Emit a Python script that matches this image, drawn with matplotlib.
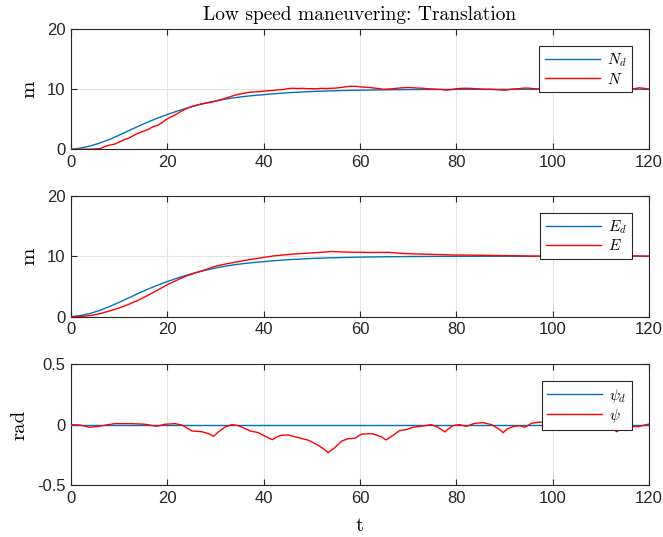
import matplotlib
matplotlib.use("Agg")
import matplotlib.pyplot as plt

plt.rcParams['font.family'] = ['Liberation Sans', 'DejaVu Sans']
plt.rcParams['mathtext.fontset'] = 'cm'
plt.rcParams['axes.unicode_minus'] = False

# ---------------- data ----------------
t_Nd = [0, 2, 4, 6, 8, 10, 12, 14, 16, 18, 20, 22, 24, 26, 28, 30, 32, 34, 36, 38, 40,
        42, 44, 46, 48, 50, 52, 54, 56, 58, 60, 65, 70, 75, 80, 90, 100, 120]
Nd = [0, 0.2, 0.55, 1.05, 1.65, 2.35, 3.1, 3.85, 4.55, 5.2, 5.8, 6.35, 6.85, 7.3, 7.7,
      8.05, 8.35, 8.6, 8.8, 8.97, 9.1, 9.25, 9.37, 9.47, 9.55, 9.63, 9.69, 9.74, 9.78,
      9.82, 9.85, 9.91, 9.95, 9.97, 9.98, 9.995, 10.0, 10.0]

t_N = list(range(0, 121))
N = [0.0, 0.0, 0.0, 0.01, 0.02, 0.05, 0.1, 0.45, 0.7, 0.85, 1.2, 1.6, 1.85, 2.3, 2.7,
     3.0, 3.3, 3.75, 4.0, 4.5, 5.1, 5.5, 5.9, 6.4, 6.8, 7.1, 7.35, 7.55, 7.7, 7.85,
     8.0, 8.25, 8.5, 8.75, 9.0, 9.2, 9.35, 9.5, 9.55, 9.6, 9.7, 9.75, 9.8, 9.9, 9.95,
     10.1, 10.17, 10.12, 10.15, 10.1, 10.1, 10.08, 10.15, 10.12, 10.17, 10.2, 10.3, 10.4,
     10.5, 10.5, 10.4, 10.35, 10.3, 10.2, 10.1, 10.0, 10.05, 10.1, 10.2, 10.25, 10.3,
     10.25, 10.2, 10.17, 10.1, 10.05, 10.0, 9.95, 9.85, 9.95, 10.1, 10.15, 10.17, 10.15,
     10.1, 10.05, 10.0, 10.0, 9.95, 9.9, 9.85, 9.95, 10.05, 10.1, 10.2, 10.2, 10.1,
     10.05, 10.0, 9.95, 10.0, 10.05, 10.1, 10.05, 10.0, 9.95, 10.0, 10.05, 10.1, 10.05,
     10.0, 9.95, 10.0, 10.05, 10.0, 9.98, 10.0, 10.1, 10.25, 10.15, 10.0]

t_Ed = [0, 2, 4, 6, 8, 10, 12, 14, 16, 18, 20, 22, 24, 26, 28, 30, 32, 34, 36, 38, 40,
        42, 44, 46, 48, 50, 52, 54, 56, 58, 60, 65, 70, 75, 80, 90, 100, 120]
Ed = [0, 0.2, 0.55, 1.05, 1.68, 2.38, 3.12, 3.87, 4.57, 5.22, 5.82, 6.37, 6.87, 7.3,
      7.7, 8.05, 8.35, 8.6, 8.8, 8.97, 9.1, 9.25, 9.37, 9.47, 9.55, 9.63, 9.69, 9.74,
      9.78, 9.82, 9.85, 9.91, 9.95, 9.97, 9.98, 9.995, 10.0, 10.0]

t_E = [0, 2, 4, 6, 8, 10, 12, 14, 16, 18, 20, 22, 24, 26, 28, 30, 32, 34, 36, 38, 40,
       42, 44, 46, 48, 50, 52, 54, 56, 58, 60, 62, 64, 66, 68, 70, 72, 74, 76, 78, 80,
       84, 88, 92, 96, 100, 104, 108, 112, 116, 120]
E = [0, 0.04, 0.2, 0.5, 0.95, 1.45, 2.05, 2.75, 3.55, 4.4, 5.3, 6.05, 6.75, 7.3, 7.8,
     8.35, 8.7, 9.0, 9.3, 9.55, 9.8, 10.05, 10.2, 10.35, 10.45, 10.55, 10.65, 10.78,
     10.72, 10.67, 10.65, 10.62, 10.63, 10.64, 10.5, 10.42, 10.37, 10.33, 10.28, 10.24,
     10.2, 10.17, 10.12, 10.08, 10.02, 10.0, 9.98, 10.0, 10.05, 10.08, 10.0]

t_psid = [0, 120]
psid = [0, 0]

t_psi = [0, 1.9, 3.9, 5.7, 7.8, 9.1, 12.6, 15.4, 17.8, 19.5, 21.6, 23, 25.1, 27.1, 28.6,
         29.6, 30.6, 32, 33.4, 34.7, 36, 37.2, 38.9, 40.3, 41.8, 42.8, 43.7, 45.1, 47.2,
         49.3, 51.3, 52.6, 53.4, 54.2, 54.8, 56.2, 57.6, 59, 60.3, 62.6, 64.4, 65.4, 66.8,
         68.2, 69.6, 71, 73.1, 74.8, 76.2, 77.6, 78.5, 79.3, 80.7, 82.1, 83.8, 85.6, 87.3,
         88.8, 89.7, 90.6, 91.8, 93.2, 94.2, 95.6, 97.4, 99, 100.8, 101.5, 102.3, 103,
         105, 107, 109, 111, 112.5, 113.3, 114.2, 115, 116.5, 117.8, 120]
psi = [0, -0.003, -0.022, -0.014, 0, 0.008, 0.008, 0.003, -0.014, 0.003, 0.008, -0.003,
       -0.052, -0.058, -0.075, -0.096, -0.06, -0.019, 0, -0.008, -0.03, -0.052, -0.066,
       -0.096, -0.124, -0.1, -0.088, -0.085, -0.107, -0.129, -0.17, -0.205, -0.231,
       -0.205, -0.19, -0.135, -0.115, -0.112, -0.078, -0.075, -0.1, -0.126, -0.09,
       -0.049, -0.041, -0.022, -0.011, 0, -0.022, -0.06, -0.03, -0.008, 0, -0.014, 0.011,
       0.016, 0, -0.035, -0.066, -0.035, -0.016, -0.008, -0.022, 0.011, 0.022, 0.01,
       -0.03, -0.049, -0.03, -0.01, 0.0, 0.01, 0.0, -0.01, -0.035, -0.058, -0.035,
       -0.025, -0.016, -0.016, 0.005]

xticks = [0, 20, 40, 60, 80, 100, 120]
yticks_pos = [0, 10, 20]
yticks_ang = [-0.5, 0, 0.5]
ytick_ang_labels = ['-0.5', '0', '0.5']

BLUE = '#0072BD'
RED = '#FF0000'
AXC = '#262626'
SERIF = 'cmr10'

fig = plt.figure(figsize=(6.63, 5.37), dpi=100)
ax1 = fig.add_axes([0.1071, 0.7220, 0.8718, 0.2235])
ax2 = fig.add_axes([0.1071, 0.4102, 0.8718, 0.2253])
ax3 = fig.add_axes([0.1071, 0.0963, 0.8718, 0.2259])

panels = [
    (ax1, t_Nd, Nd, t_N, N, r'$N_d$', r'$N$', (0, 20), yticks_pos, None, 'm'),
    (ax2, t_Ed, Ed, t_E, E, r'$E_d$', r'$E$', (0, 20), yticks_pos, None, 'm'),
    (ax3, t_psid, psid, t_psi, psi, r'$\psi_d$', r'$\psi$', (-0.5, 0.5), yticks_ang,
     ytick_ang_labels, 'rad'),
]

for ax, tx, yd, ty, y, ld, l, ylim, yt, ytl, ylab in panels:
    ax.plot(tx, yd, color=BLUE, lw=1.0, label=ld, zorder=3)
    ax.plot(ty, y, color=RED, lw=1.0, label=l, zorder=4)
    ax.set_xlim(0, 120)
    ax.set_ylim(*ylim)
    ax.set_xticks(xticks)
    ax.set_yticks(yt)
    if ytl is not None:
        ax.set_yticklabels(ytl)
    ax.grid(True, color='#e3e3e3', lw=0.8, zorder=0)
    ax.set_axisbelow(True)
    ax.tick_params(direction='in', length=4, width=0.8, colors=AXC, labelsize=12,
                   top=True, right=True, pad=4)
    for s in ax.spines.values():
        s.set_color(AXC)
        s.set_linewidth(0.8)
    ax.set_ylabel(ylab, fontsize=15, labelpad=6, family=SERIF)
    leg = ax.legend(loc='upper right', bbox_to_anchor=(0.970, 0.858), borderaxespad=0,
                    fontsize=11, handlelength=3.6, handletextpad=0.45, borderpad=0.35,
                    labelspacing=0.15, fancybox=False, framealpha=1, edgecolor=AXC)
    leg.get_frame().set_linewidth(0.8)
    leg.set_zorder(10)

ax3.set_xlabel('t', fontsize=15, labelpad=8, family=SERIF)
ax1.set_title('Low speed maneuvering: Translation', fontsize=14, pad=7, family=SERIF)

fig.savefig('out.png', dpi=100)
